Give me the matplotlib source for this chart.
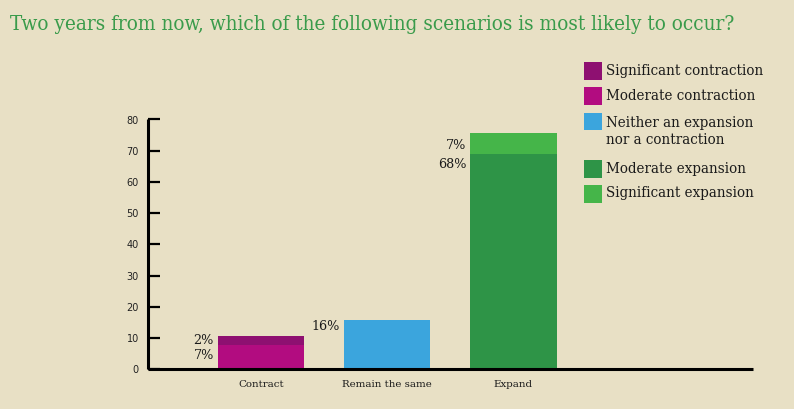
import matplotlib
matplotlib.use("Agg")
import matplotlib.pyplot as plt
from matplotlib.patches import Rectangle

# ---- data ----
categories = ["Contract", "Remain the same", "Expand"]
series_names = ["Significant contraction", "Moderate contraction",
                "Neither an expansion\nnor a contraction",
                "Moderate expansion", "Significant expansion"]
# bar heights as drawn (bottom segment, top segment)
contract_moderate = 7.7
contract_significant = 3.0
remain_same = 15.8
expand_moderate = 69.0
expand_significant = 6.8
# printed labels
contract_labels = ["7%", "2%"]
remain_label = "16%"
expand_labels = ["68%", "7%"]
yticks = [0, 10, 20, 30, 40, 50, 60, 70, 80]

title = "Two years from now, which of the following scenarios is most likely to occur?"

# ---- style ----
BG = "#E8E0C5"
C_SIGC = "#8E1071"
C_MODC = "#B20C80"
C_NEU = "#3BA5DD"
C_MODE = "#2E9447"
C_SIGE = "#45B549"
TITLE_C = "#3A9B4B"
SERIF = ["DejaVu Serif"]
TXT = "#1a1a1a"
W, H = 794, 409

fig = plt.figure(figsize=(W / 100, H / 100), dpi=100, facecolor=BG)
ax = fig.add_axes([148 / W, (H - 369.3) / H, (753 - 148) / W, (369.3 - 119.5) / H])
ax.set_facecolor(BG)

x = [0, 1, 2]
bw = 0.685
ax.bar(x[0], contract_moderate, bw, color=C_MODC, zorder=2)
ax.bar(x[0], contract_significant, bw, bottom=contract_moderate, color=C_SIGC, zorder=2)
ax.bar(x[1], remain_same, bw, color=C_NEU, zorder=2)
ax.bar(x[2], expand_moderate, bw, color=C_MODE, zorder=2)
ax.bar(x[2], expand_significant, bw, bottom=expand_moderate, color=C_SIGE, zorder=2)

ax.set_xlim(-0.8954, 3.898)
ax.set_ylim(0, 80)
for s in ["top", "right"]:
    ax.spines[s].set_visible(False)
for s in ["left", "bottom"]:
    ax.spines[s].set_linewidth(2.2)
    ax.spines[s].set_color("black")
    ax.spines[s].set_capstyle("butt")

ax.set_yticks(yticks)
ax.tick_params(axis="y", direction="in", length=8.6, width=1.6, pad=6.5,
               labelsize=7.0, labelcolor="#222222")
for lab in ax.get_yticklabels():
    lab.set_family("DejaVu Sans")
ax.set_xticks(x)
ax.set_xticklabels(categories, family=SERIF, fontsize=7.4, color=TXT)
ax.tick_params(axis="x", length=0, pad=8)

# value labels
lbl_kw = dict(ha="right", va="center", family=SERIF, fontsize=9.2, color=TXT,
              textcoords="offset pixels", annotation_clip=False)
left0 = x[0] - bw / 2
ax.annotate(contract_labels[1], (left0, contract_moderate + contract_significant), xytext=(-4, -5), **lbl_kw)
ax.annotate(contract_labels[0], (left0, contract_moderate), xytext=(-4, -10), **lbl_kw)
left1 = x[1] - bw / 2
ax.annotate(remain_label, (left1, remain_same), xytext=(-4, -7), **lbl_kw)
left2 = x[2] - bw / 2
ax.annotate(expand_labels[1], (left2, expand_moderate + expand_significant), xytext=(-4, -13), **lbl_kw)
ax.annotate(expand_labels[0], (left2, expand_moderate), xytext=(-4, -11), **lbl_kw)

# title
fig.text(10 / W, 1 - 25 / H, title, ha="left", va="center", family=SERIF,
         fontsize=14.85, color=TITLE_C, fontstretch="condensed")

# legend (manual)
leg_colors = [C_SIGC, C_MODC, C_NEU, C_MODE, C_SIGE]
sq_tops = [62, 87.5, 112.7, 160, 185]
text_centers = [70.5, 96, 131.5, 168.5, 193.5]
sq = 17.5
for name, col, top, yc in zip(series_names, leg_colors, sq_tops, text_centers):
    fig.patches.append(Rectangle((584 / W, 1 - (top + sq) / H), sq / W, sq / H,
                                 transform=fig.transFigure, facecolor=col, edgecolor="none"))
    fig.text(606 / W, 1 - yc / H, name, ha="left", va="center",
             family=SERIF, fontsize=9.75, color=TXT, linespacing=1.3)

fig.savefig("out.png", dpi=100, facecolor=BG)
